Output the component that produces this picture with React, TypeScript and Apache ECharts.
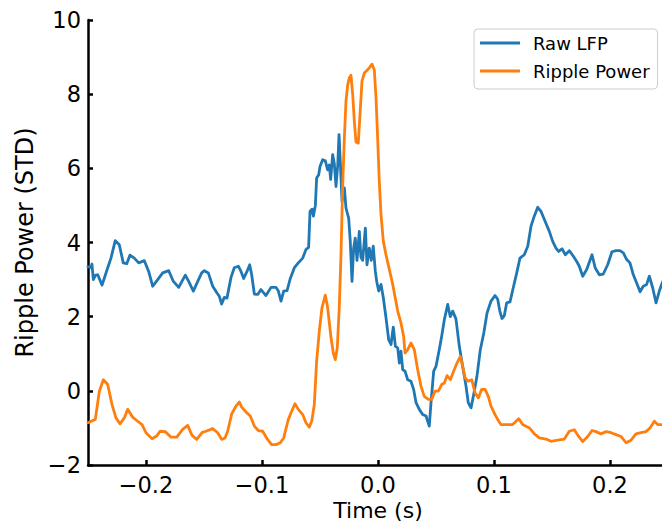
import React, { useEffect, useRef } from "react";
import * as echarts from "echarts";

const xTicks = [-0.2, -0.1, 0, 0.1, 0.2];

const lfpTime = [
  -0.25, -0.2474, -0.2466, -0.2454, -0.2435, -0.2416, -0.2379, -0.233, -0.2302, -0.2265,
  -0.223, -0.2196, -0.2166, -0.2138, -0.2101, -0.2063, -0.2014, -0.1977, -0.1942, -0.1899,
  -0.1856, -0.1804, -0.1764, -0.1718, -0.1661, -0.1632, -0.1592, -0.1554, -0.152, -0.1497,
  -0.1463, -0.1425, -0.1388, -0.1368, -0.1348, -0.1325, -0.1302, -0.1267, -0.1239, -0.1204,
  -0.1181, -0.1158, -0.1129, -0.1106, -0.1089, -0.1066, -0.1037, -0.1009, -0.0966, -0.0922,
  -0.0879, -0.0859, -0.0836, -0.0813, -0.0784, -0.0756, -0.0721, -0.0687, -0.0649, -0.0621,
  -0.0598, -0.0586, -0.0569, -0.0557, -0.054, -0.0529, -0.0511, -0.05, -0.0477, -0.0454,
  -0.0434, -0.042, -0.0408, -0.0391, -0.0377, -0.0362, -0.0347, -0.0336, -0.0325, -0.031,
  -0.029, -0.0276, -0.0253, -0.0239, -0.0224, -0.021, -0.0196, -0.0181, -0.0161, -0.0147,
  -0.0132, -0.0109, -0.0095, -0.0075, -0.0058, -0.0041, -0.0023, -0.0011, 0.0006, 0.0026,
  0.0046, 0.0069, 0.0092, 0.0112, 0.0132, 0.015, 0.017, 0.0184, 0.0198, 0.0213,
  0.0233, 0.0256, 0.0284, 0.0307, 0.0328, 0.0356, 0.0385, 0.0414, 0.0442, 0.0457,
  0.048, 0.05, 0.0528, 0.0549, 0.0572, 0.0601, 0.0623, 0.0644, 0.0672, 0.0701,
  0.073, 0.0759, 0.0778, 0.0802, 0.0825, 0.0853, 0.0882, 0.0912, 0.094, 0.0974,
  0.1009, 0.1032, 0.105, 0.1069, 0.1089, 0.1109, 0.1138, 0.1166, 0.1196, 0.1224,
  0.1261, 0.1291, 0.1319, 0.1347, 0.1377, 0.1405, 0.1434, 0.1477, 0.1506, 0.1534,
  0.1557, 0.1586, 0.1615, 0.1649, 0.1684, 0.1713, 0.1735, 0.1765, 0.1799, 0.1845,
  0.1873, 0.1908, 0.1942, 0.198, 0.2017, 0.2052, 0.2086, 0.2115, 0.2144, 0.2172,
  0.2201, 0.223, 0.2259, 0.2287, 0.2316, 0.2339, 0.2368, 0.2397, 0.2425, 0.2454,
  0.25,
];
const lfpValues = [
  3.35, 3.32, 3.42, 3.0, 3.12, 3.13, 2.85, 3.32, 3.58, 4.05,
  3.94, 3.45, 3.43, 3.66, 3.58, 3.45, 3.51, 3.22, 2.82, 3.0,
  3.18, 3.24, 2.95, 2.79, 3.12, 2.95, 2.69, 2.95, 3.18, 3.24,
  3.18, 2.82, 2.64, 2.55, 2.34, 2.52, 2.5, 3.06, 3.32, 3.36,
  3.22, 3.03, 3.22, 3.4, 3.13, 2.61, 2.6, 2.73, 2.57, 2.79,
  2.79, 2.69, 2.42, 2.69, 2.7, 3.03, 3.32, 3.45, 3.58, 3.81,
  3.87, 4.84, 4.9, 4.71, 5.0, 5.74, 5.83, 6.05, 6.23, 6.2,
  5.96, 6.09, 5.7, 6.37, 6.14, 5.51, 6.09, 6.91, 6.18, 5.11,
  5.47, 4.93, 4.66, 4.03, 2.95, 3.85, 4.12, 3.52, 4.3, 3.6,
  3.52, 4.39, 3.4, 3.85, 3.52, 3.9, 3.22, 2.95, 2.69, 2.87,
  2.51, 1.97, 1.38, 1.25, 1.72, 1.2, 1.16, 0.75, 1.07, 0.57,
  0.53, 0.3, 0.26, 0.04, -0.32, -0.5, -0.64, -0.68, -0.95, -0.32,
  0.53, 0.66, 1.11, 1.47, 1.92, 2.33, 2.0, 2.15, 1.94, 1.2,
  0.66, 0.12, -0.32, -0.46, -0.1, 0.39, 1.11, 1.56, 2.1, 2.42,
  2.57, 2.47, 2.15, 1.95, 2.03, 2.37, 2.4, 2.78, 3.18, 3.58,
  3.67, 3.9, 4.44, 4.71, 4.95, 4.84, 4.62, 4.3, 4.03, 3.85,
  3.76, 3.83, 3.67, 3.78, 3.63, 3.49, 3.36, 3.09, 3.27, 3.67,
  3.31, 3.13, 3.15, 3.4, 3.75, 3.78, 3.78, 3.72, 3.54, 3.45,
  3.13, 2.91, 2.67, 2.82, 2.87, 3.09, 2.78, 2.37, 2.69, 2.94,
  3.2,
];

const rippleTime = [
  -0.25, -0.2437, -0.2402, -0.2368, -0.233, -0.2293, -0.2259, -0.2224, -0.2187, -0.2158,
  -0.2115, -0.208, -0.2034, -0.2, -0.1948, -0.1908, -0.1879, -0.1834, -0.1784, -0.1735,
  -0.1684, -0.1641, -0.1603, -0.1563, -0.1515, -0.1483, -0.1425, -0.1382, -0.1348, -0.1319,
  -0.1296, -0.1261, -0.1224, -0.1195, -0.1175, -0.1138, -0.1101, -0.1066, -0.1032, -0.0994,
  -0.0957, -0.0917, -0.0879, -0.0842, -0.0813, -0.0773, -0.0744, -0.0716, -0.0687, -0.0649,
  -0.0621, -0.0592, -0.057, -0.0549, -0.0529, -0.0506, -0.0483, -0.0454, -0.0434, -0.0405,
  -0.0385, -0.0368, -0.0351, -0.0334, -0.0319, -0.0305, -0.029, -0.0276, -0.0261, -0.0247,
  -0.0233, -0.0218, -0.0204, -0.019, -0.017, -0.0155, -0.0138, -0.0118, -0.0098, -0.0075,
  -0.0052, -0.0032, -0.0017, -0.0003, 0.0011, 0.0026, 0.0046, 0.0069, 0.0098, 0.0127,
  0.0149, 0.017, 0.0198, 0.0221, 0.0233, 0.0256, 0.0284, 0.0313, 0.0342, 0.0371,
  0.0399, 0.0434, 0.0463, 0.0491, 0.052, 0.0549, 0.0572, 0.0595, 0.0624, 0.0652,
  0.0681, 0.071, 0.073, 0.075, 0.0779, 0.0808, 0.0836, 0.0865, 0.0894, 0.0923,
  0.0951, 0.0974, 0.1009, 0.1037, 0.106, 0.1103, 0.1161, 0.1213, 0.1247, 0.1305,
  0.1348, 0.1391, 0.1448, 0.1491, 0.1549, 0.1606, 0.1649, 0.1692, 0.173, 0.1765,
  0.1808, 0.1845, 0.1879, 0.1922, 0.1966, 0.2009, 0.2052, 0.2095, 0.2138, 0.2181,
  0.2224, 0.2267, 0.231, 0.2345, 0.2382, 0.2411, 0.2454, 0.25,
];
const rippleValues = [
  -0.86, -0.77, -0.01, 0.3, 0.17, -0.37, -0.73, -0.89, -0.73, -0.5,
  -0.71, -0.8, -0.91, -1.13, -1.29, -1.22, -1.09, -1.1, -1.25, -1.25,
  -1.04, -0.93, -1.2, -1.31, -1.12, -1.09, -1.02, -1.13, -1.31, -1.27,
  -1.09, -0.62, -0.41, -0.3, -0.44, -0.57, -0.68, -0.95, -1.07, -1.09,
  -1.29, -1.45, -1.45, -1.4, -1.27, -0.77, -0.55, -0.35, -0.5, -0.64,
  -0.86, -0.98, -0.8, -0.37, 0.8, 1.61, 2.24, 2.58, 2.24, 1.43,
  1.02, 0.84, 1.16, 2.24, 3.67, 5.47, 6.82, 7.81, 8.26, 8.44,
  8.51, 7.99, 7.27, 6.71, 6.68, 7.45, 8.35, 8.57, 8.63, 8.71,
  8.81, 8.66, 7.9, 6.82, 5.65, 4.75, 4.03, 3.67, 3.27, 2.87,
  2.5, 2.15, 1.83, 1.47, 1.02, 1.11, 1.29, 1.11, 0.57, 0.12,
  -0.15, -0.23, -0.23, -0.01, -0.01, 0.17, 0.21, 0.41, 0.3, 0.53,
  0.75, 0.93, 0.66, 0.35, 0.26, 0.3, -0.05, -0.19, 0.04, 0.04,
  -0.15, -0.41, -0.64, -0.8, -0.91, -0.91, -0.91, -0.75, -0.91, -1.0,
  -1.16, -1.27, -1.3, -1.36, -1.33, -1.3, -1.09, -1.05, -1.23, -1.37,
  -1.23, -1.07, -1.1, -1.16, -1.1, -1.13, -1.18, -1.23, -1.4, -1.33,
  -1.16, -1.13, -1.1, -1.0, -0.82, -0.91, -0.91, -0.95,
];

const FONT = "DejaVu Sans";
const minus = (s: string) => s.replace("-", "\u2212");

export default function App() {
  const ref = useRef<HTMLDivElement>(null);
  useEffect(() => {
    if (!ref.current) return;
    const chart = echarts.init(ref.current, null, { renderer: "svg" });
    const lfp = lfpTime.map((t, i) => [t, lfpValues[i]]);
    const ripple = rippleTime.map((t, i) => [t, rippleValues[i]]);
    const axisLine = { show: true, onZero: false, lineStyle: { color: "#000", width: 2.5 } };
    const axisTick = { show: true, inside: true, length: 5, lineStyle: { color: "#000", width: 2.5 } };
    chart.setOption({
      animation: false,
      backgroundColor: "#fff",
      grid: {
        left: 88,
        right: -6,
        top: 20,
        bottom: 59,
        containLabel: false,
        outerBoundsMode: "none",
      },
      legend: {
        show: true,
        orient: "vertical",
        left: 474,
        top: 29,
        icon: "rect",
        itemWidth: 40,
        itemHeight: 3,
        itemGap: 10,
        padding: [5, 8, 9, 6],
        backgroundColor: "rgba(255,255,255,0.8)",
        borderColor: "#cccccc",
        borderWidth: 1,
        borderRadius: 4,
        textStyle: {
          fontFamily: FONT,
          fontSize: 18,
          lineHeight: 18,
          color: "#000",
          padding: [0, 0, 0, 8],
        },
        data: ["Raw LFP", "Ripple Power"],
      },
      xAxis: {
        type: "value",
        min: -0.25,
        max: 0.25,
        name: "Time (s)",
        nameLocation: "middle",
        nameGap: 35.5,
        nameMoveOverlap: false,
        nameTextStyle: { fontFamily: FONT, fontSize: 22, lineHeight: 20, color: "#000" },
        axisLine,
        axisTick: { ...axisTick, customValues: xTicks },
        axisLabel: {
          customValues: xTicks,
          margin: 8,
          fontFamily: FONT,
          fontSize: 22.5,
          color: "#000",
          formatter: (v: number) => minus(v.toFixed(1)),
        },
        splitLine: { show: false },
      },
      yAxis: {
        type: "value",
        min: -2,
        max: 10,
        interval: 2,
        name: "Ripple Power (STD)",
        nameLocation: "middle",
        nameGap: 48,
        nameTextStyle: { fontFamily: FONT, fontSize: 24, color: "#000" },
        axisLine,
        axisTick,
        axisLabel: {
          margin: 7,
          fontFamily: FONT,
          fontSize: 22.5,
          color: "#000",
          formatter: (v: number) => minus(String(v)),
        },
        splitLine: { show: false },
      },
      series: [
        {
          name: "Raw LFP",
          type: "line",
          data: lfp,
          symbol: "none",
          showSymbol: false,
          color: "#1f77b4",
          lineStyle: { color: "#1f77b4", width: 2.8, cap: "round", join: "round" },
        },
        {
          name: "Ripple Power",
          type: "line",
          data: ripple,
          symbol: "none",
          showSymbol: false,
          color: "#ff7f0e",
          lineStyle: { color: "#ff7f0e", width: 2.8, cap: "round", join: "round" },
        },
      ],
    });
    return () => chart.dispose();
  }, []);
  return (
    <div
      ref={ref}
      style={{ position: "absolute", left: 0, top: 0, width: 662, height: 524 }}
    />
  );
}
